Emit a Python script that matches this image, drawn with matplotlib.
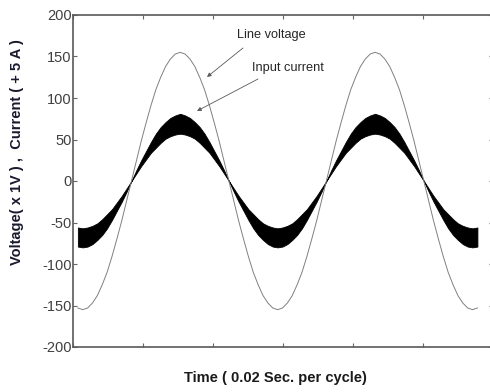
import numpy as np
import matplotlib.pyplot as plt

plt.rcParams['font.family'] = ['Liberation Sans', 'DejaVu Sans']

# samples every 0.5 ms
t_start_ms = 0.5
t_step_ms = 0.5

line_voltage = [
    -153, -155, -153, -147, -138, -125, -110, -91, -70, -48, -24,
    0, 24, 48, 70, 91, 110, 125, 138, 147, 153, 155,
    153, 147, 138, 125, 110, 91, 70, 48, 24, 0,
    -24, -48, -70, -91, -110, -125, -138, -147, -153, -155,
    -153, -147, -138, -125, -110, -91, -70, -48, -24, 0,
    24, 48, 70, 91, 110, 125, 138, 147, 153, 155,
    153, 147, 138, 125, 110, 91, 70, 48, 24, 0,
    -24, -48, -70, -91, -110, -125, -138, -147, -153, -155,
    -153,
]

# outer / inner envelope of the switching ripple on the input current
current_outer = [
    -79, -80, -79, -76, -71, -65, -57, -47, -36, -25, -13,
    0, 13, 25, 36, 47, 57, 65, 71, 76, 79, 81,
    79, 76, 71, 65, 57, 47, 36, 25, 13, 0,
    -13, -25, -36, -47, -57, -65, -71, -76, -79, -80,
    -79, -76, -71, -65, -57, -47, -36, -25, -13, 0,
    13, 25, 36, 47, 57, 65, 71, 76, 79, 81,
    79, 76, 71, 65, 57, 47, 36, 25, 13, 0,
    -13, -25, -36, -47, -57, -65, -71, -76, -79, -80,
    -79,
]
current_inner = [
    -56, -57, -56, -54, -51, -46, -40, -34, -26, -18, -9,
    0, 9, 18, 26, 34, 40, 46, 51, 54, 56, 57,
    56, 54, 51, 46, 40, 34, 26, 18, 9, 0,
    -9, -18, -26, -34, -40, -46, -51, -54, -56, -57,
    -56, -54, -51, -46, -40, -34, -26, -18, -9, 0,
    9, 18, 26, 34, 40, 46, 51, 54, 56, 57,
    56, 54, 51, 46, 40, 34, 26, 18, 9, 0,
    -9, -18, -26, -34, -40, -46, -51, -54, -56, -57,
    -56,
]

yticks = [-200, -150, -100, -50, 0, 50, 100, 150, 200]
x_tick_step = 7.18
x_max = 43.1

t = t_start_ms + t_step_ms * np.arange(len(line_voltage))

fig = plt.figure(figsize=(4.9, 3.92), dpi=100)
ax = fig.add_axes([73 / 490, 1 - 347 / 392, 420 / 490, 332 / 392])

ax.fill_between(t, current_inner, current_outer, color='black', lw=0.6, edgecolor='black')
ax.plot(t, line_voltage, color='0.5', lw=0.7)

ax.set_xlim(0, x_max)
ax.set_ylim(-200, 200)
ax.set_xticks(np.arange(0, x_max + 0.1, x_tick_step))
ax.set_xticklabels([])
ax.set_yticks(yticks)
ax.set_yticklabels([str(v) for v in yticks], fontsize=10.5, color='0.25')
ax.tick_params(direction='in', length=3, width=0.8, color='0.4',
               top=True, right=True, pad=1)
for s in ax.spines.values():
    s.set_color('0.35')
    s.set_linewidth(1.2)

fig.text(17 / 490, 1 - 152 / 392, 'Voltage( x 1V ) ,  Current ( + 5 A )',
         rotation=90, ha='center', va='center', fontsize=10.5,
         fontweight='bold', color='#1a1a2e')
fig.text(275 / 490, 1 - 378 / 392, 'Time ( 0.02 Sec. per cycle)',
         ha='center', va='center', fontsize=10.5, fontweight='bold', color='0.1')

# annotations
arrow = dict(arrowstyle='-|>', color='0.35', lw=0.6, mutation_scale=6,
             shrinkA=0, shrinkB=0)
ax.annotate('', xy=(207, 392 - 77), xycoords='figure pixels',
            xytext=(243, 392 - 48), textcoords='figure pixels', arrowprops=arrow)
ax.annotate('', xy=(197, 392 - 111), xycoords='figure pixels',
            xytext=(258, 392 - 79), textcoords='figure pixels', arrowprops=arrow)
fig.text(237 / 490, 1 - 35 / 392, 'Line voltage', ha='left', va='center',
         fontsize=9.2, color='0.15')
fig.text(252 / 490, 1 - 68 / 392, 'Input current', ha='left', va='center',
         fontsize=9.2, color='0.15')

fig.savefig('out.png', dpi=100)
